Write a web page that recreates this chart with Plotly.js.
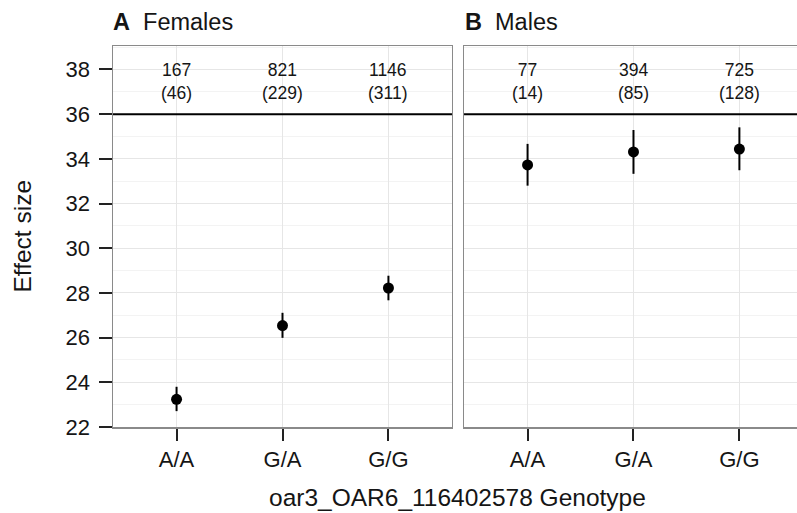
<!DOCTYPE html>
<html>
<head>
<meta charset="utf-8">
<script src="https://cdn.plot.ly/plotly-3.0.1.min.js"></script>
<style>html,body{margin:0;padding:0;background:#fff;}#chart{width:797px;height:513px;}</style>
</head>
<body>
<div id="chart"></div>
<script>
// ---- data ----
const genotypes = ["A/A", "G/A", "G/G"];
const genotypePos = [1, 2, 3];
const femaleEffect = [23.24, 26.54, 28.22];
const femaleHigh   = [23.80, 27.11, 28.77];
const femaleLow    = [22.71, 25.99, 27.67];
const maleEffect   = [33.73, 34.31, 34.44];
const maleHigh     = [34.67, 35.29, 35.41];
const maleLow      = [32.80, 33.33, 33.49];
const femaleCounts = ["167<br>(46)", "821<br>(229)", "1146<br>(311)"];
const maleCounts   = ["77<br>(14)", "394<br>(85)", "725<br>(128)"];
const yTickVals = [22, 24, 26, 28, 30, 32, 34, 36, 38];
const panelTitles = ["<b>A</b>  Females", "<b>B</b>  Males"];
const countLevel = 37.46;
const refLevel = 36;

// ---- styles ----
const FONT = "Liberation Sans, Arial, sans-serif";
const TXT = "#151515";
const BORDER = "#8a8a8a";
const GRID = "#e6e6e6";
const MINOR = "#f3f3f3";

function diff(a, b) { return a.map((v, i) => +(v - b[i]).toFixed(3)); }

function series(xa, ya, y, hi, lo) {
  return {
    type: "scatter", mode: "markers",
    x: genotypePos, y: y, xaxis: xa, yaxis: ya,
    marker: {color: "#000", size: 11},
    error_y: {type: "data", symmetric: false, array: diff(hi, y), arrayminus: diff(y, lo),
              width: 0, thickness: 2, color: "#000"},
    showlegend: false, hoverinfo: "skip"
  };
}

const traces = [
  series("x", "y", femaleEffect, femaleHigh, femaleLow),
  series("x2", "y2", maleEffect, maleHigh, maleLow)
];

const xBase = {
  tickvals: genotypePos, ticktext: genotypes,
  ticks: "outside", ticklen: 12, tickwidth: 2, tickcolor: "#222",
  tickfont: {family: FONT, size: 22, color: TXT},
  showgrid: true, gridcolor: GRID, gridwidth: 1,
  zeroline: false, showline: true, linecolor: BORDER, linewidth: 1.5,
  fixedrange: true
};
const yRange = [22.0, 39.05];
const yBase = {
  range: yRange, tickvals: yTickVals,
  showgrid: true, gridcolor: GRID, gridwidth: 1,
  minor: {dtick: 1, tick0: 0, showgrid: true, gridcolor: MINOR, gridwidth: 1, ticks: ""},
  zeroline: false, showline: true, linecolor: BORDER, linewidth: 1.5,
  fixedrange: true
};

const annotations = [];
genotypePos.forEach((p, i) => {
  annotations.push({xref: "x", yref: "y", x: p, y: countLevel, text: femaleCounts[i],
    showarrow: false, font: {family: FONT, size: 17.5, color: TXT}});
  annotations.push({xref: "x2", yref: "y2", x: p, y: countLevel, text: maleCounts[i],
    showarrow: false, font: {family: FONT, size: 17.5, color: TXT}});
});
annotations.push({xref: "paper", yref: "paper", x: -0.003, y: 1.064, xanchor: "left", yanchor: "middle",
  text: panelTitles[0], showarrow: false, font: {family: FONT, size: 23.5, color: TXT}});
annotations.push({xref: "paper", yref: "paper", x: 0.5117, y: 1.064, xanchor: "left", yanchor: "middle",
  text: panelTitles[1], showarrow: false, font: {family: FONT, size: 23.5, color: TXT}});
annotations.push({xref: "paper", yref: "paper", x: 0.5037, y: -0.184, xanchor: "center", yanchor: "middle",
  text: "oar3_OAR6_116402578 Genotype", showarrow: false, font: {family: FONT, size: 24.5, color: TXT}});
annotations.push({xref: "paper", yref: "paper", x: -0.133, y: 0.5, xanchor: "center", yanchor: "middle",
  textangle: -90, text: "Effect size", showarrow: false, font: {family: FONT, size: 24.5, color: TXT}});

const layout = {
  width: 797, height: 513,
  margin: {l: 113, r: 0, t: 46, b: 86},
  paper_bgcolor: "#fff", plot_bgcolor: "#fff",
  showlegend: false,
  xaxis: Object.assign({}, xBase, {domain: [0, 0.4956], range: [0.4, 3.6], anchor: "y", mirror: true}),
  xaxis2: Object.assign({}, xBase, {domain: [0.5132, 1], range: [0.4, 3.544], anchor: "y2", mirror: true}),
  yaxis: Object.assign({}, yBase, {anchor: "x", mirror: true,
    ticks: "outside", ticklen: 13, tickwidth: 2, tickcolor: "#222", ticklabelstandoff: 4,
    tickfont: {family: FONT, size: 22, color: TXT}}),
  yaxis2: Object.assign({}, yBase, {anchor: "x2", showticklabels: false, ticks: "", mirror: false}),
  shapes: [
    {type: "line", xref: "x", yref: "y", x0: 0.4, x1: 3.6, y0: refLevel, y1: refLevel,
     line: {color: "#000", width: 2}},
    {type: "line", xref: "x2", yref: "y2", x0: 0.4, x1: 3.544, y0: refLevel, y1: refLevel,
     line: {color: "#000", width: 2}}
  ],
  annotations: annotations
};

Plotly.newPlot("chart", traces, layout, {staticPlot: true, displayModeBar: false});
</script>
</body>
</html>
